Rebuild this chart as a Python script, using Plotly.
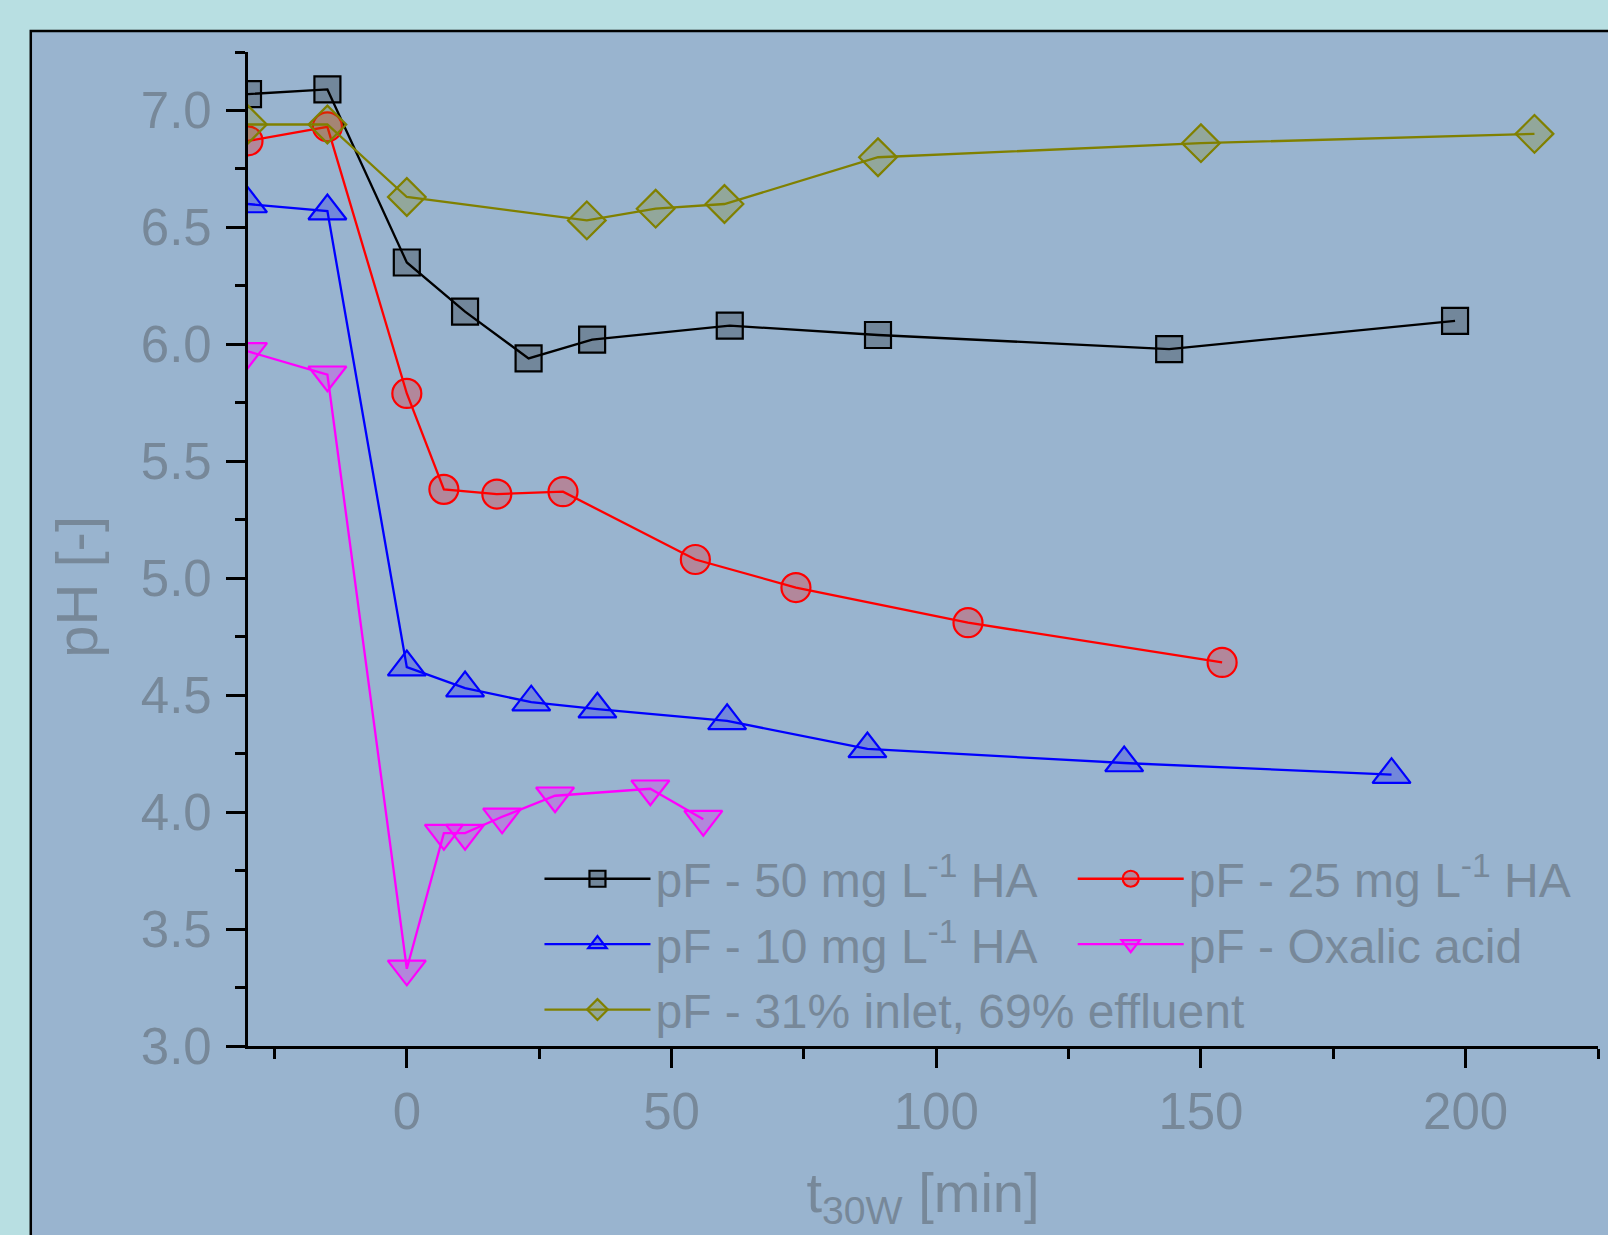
import plotly.graph_objects as go

# ---- data ----
t_50 = [-30, -15, 0, 11, 23, 35, 61, 89, 144, 198]
ph_50 = [7.07, 7.09, 6.35, 6.14, 5.94, 6.02, 6.08, 6.04, 5.98, 6.10]

t_25 = [-30, -15, 0, 7, 17, 29.5, 54.5, 73.5, 106, 154]
ph_25 = [6.87, 6.93, 5.79, 5.38, 5.36, 5.37, 5.08, 4.96, 4.81, 4.64]

t_10 = [-30, -15, 0, 11, 23.5, 36, 60.5, 87, 135.5, 186]
ph_10 = [6.60, 6.57, 4.62, 4.53, 4.47, 4.44, 4.39, 4.27, 4.21, 4.16]

t_ox = [-30, -15, 0, 7, 11, 18, 28, 46, 56]
ph_ox = [5.97, 5.87, 3.33, 3.91, 3.91, 3.98, 4.07, 4.10, 3.97]

t_mix = [-30, -15, 0, 34, 47, 60, 89, 150, 213]
ph_mix = [6.94, 6.94, 6.63, 6.53, 6.58, 6.60, 6.80, 6.86, 6.90]

names = [
    "pF - 50 mg L<sup>-1</sup> HA",
    "pF - 25 mg L<sup>-1</sup> HA",
    "pF - 10 mg L<sup>-1</sup> HA",
    "pF - Oxalic acid",
    "pF - 31% inlet, 69% effluent",
]

x_tickvals = [0, 50, 100, 150, 200]
y_tickvals = [3.0, 3.5, 4.0, 4.5, 5.0, 5.5, 6.0, 6.5, 7.0]

x_title = "t<sub>30W</sub> [min]"
y_title = "pH [-]"

TXT = "#778899"
FONT = "Liberation Sans, Arial, Helvetica, sans-serif"

series = [
    (t_50, ph_50, names[0], "#000000", "rgba(0,0,0,0.25)", "square", 26, "legend"),
    (t_25, ph_25, names[1], "#ff0000", "rgba(255,0,0,0.25)", "circle", 29, "legend2"),
    (t_10, ph_10, names[2], "#0000ff", "rgba(0,0,255,0.25)", "triangle-up", 33, "legend"),
    (t_ox, ph_ox, names[3], "#ff00ff", "rgba(255,0,255,0.25)", "triangle-down", 33, "legend2"),
    (t_mix, ph_mix, names[4], "#808000", "rgba(128,128,0,0.25)", "diamond", 29, "legend"),
]

fig = go.Figure()
for xs, ys, nm, col, fill, sym, sz, lg in series:
    fig.add_trace(go.Scatter(
        x=xs, y=ys, name=nm, mode="lines+markers",
        line=dict(color=col, width=2.3),
        marker=dict(symbol=sym, size=sz, color=fill, line=dict(color=col, width=2.2)),
        legend=lg,
    ))

axis_common = dict(
    showgrid=False, zeroline=False, showline=True, linecolor="black", linewidth=3.2,
    ticks="outside", tickcolor="black", tickwidth=3.2, ticklen=19,
    tickfont=dict(size=51, color=TXT, family=FONT),
    mirror=False,
)

fig.update_xaxes(
    range=[-30, 225], tickvals=x_tickvals,
    minor=dict(dtick=25, tick0=0, ticks="outside", ticklen=10, tickwidth=3.2, tickcolor="black"),
    title=dict(text=x_title, font=dict(size=56, color=TXT, family=FONT), standoff=34),
    ticklabelstandoff=0,
    **axis_common,
)
fig.update_yaxes(
    range=[3, 7.25], tickvals=y_tickvals, tickformat=".1f",
    minor=dict(dtick=0.25, tick0=0, ticks="outside", ticklen=10, tickwidth=3.2, tickcolor="black"),
    ticklabelstandoff=4,
    **axis_common,
)

legend_common = dict(
    xanchor="left", yanchor="top", bgcolor="rgba(0,0,0,0)", borderwidth=0,
    font=dict(size=48, color=TXT, family=FONT), itemwidth=106, tracegroupgap=0,
    orientation="v",
)

fig.update_layout(
    width=1608, height=1235,
    margin=dict(l=248, r=10, t=52, b=189, autoexpand=False),
    paper_bgcolor="#b8dfe2",
    plot_bgcolor="#99b4cf",
    font=dict(family=FONT, color=TXT),
    showlegend=True,
    legend=dict(x=0.2159, y=0.2062, **legend_common),
    legend2=dict(x=0.6109, y=0.2062, **legend_common),
    annotations=[dict(
        text=y_title, textangle=-90, xref="paper", yref="paper",
        x=-0.1268, y=0.4618, xanchor="center", yanchor="middle", showarrow=False,
        font=dict(size=58, color=TXT, family=FONT),
    )],
    shapes=[dict(
        type="rect", xref="paper", yref="paper",
        x0=-0.1609, x1=1.2, y0=-0.4, y1=1.0211,
        fillcolor="#99b4cf", line=dict(color="black", width=2.5), layer="below",
    )],
)

fig.write_html("out.html", config={"displayModeBar": False},
               post_script="document.body.style.margin='0';")
